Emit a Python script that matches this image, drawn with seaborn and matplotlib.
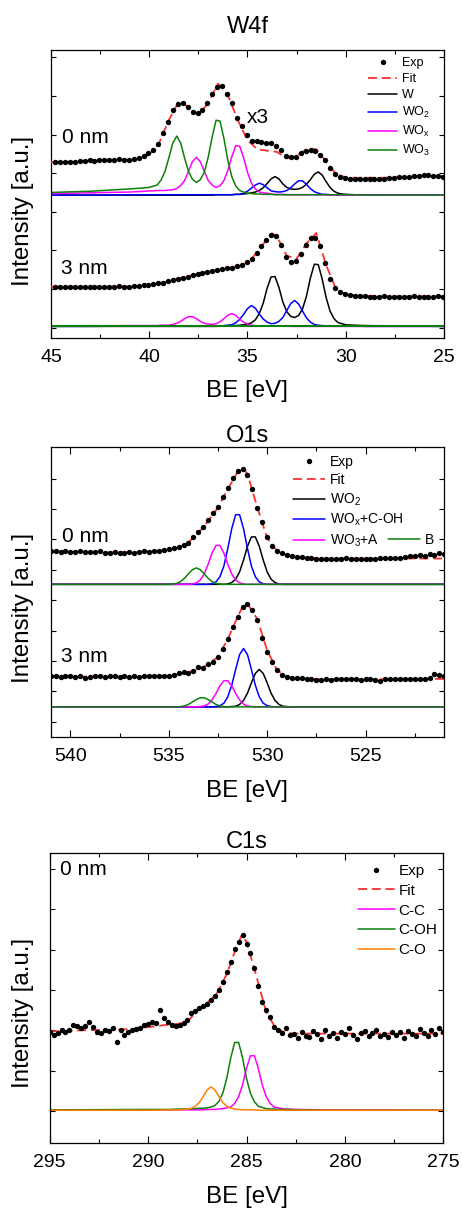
import matplotlib
matplotlib.use("Agg")
import matplotlib.pyplot as plt
import numpy as np
import seaborn as sns

# ---------------- W4f ----------------
w_be = [44.79, 44.54, 44.29, 44.04, 43.79, 43.54, 43.29, 43.04, 42.79, 42.54,
        42.29, 42.04, 41.79, 41.54, 41.29, 41.04, 40.79, 40.54, 40.29, 40.04,
        39.79, 39.54, 39.29, 39.04, 38.79, 38.54, 38.29, 38.04, 37.79, 37.54,
        37.29, 37.04, 36.79, 36.54, 36.29, 36.04, 35.79, 35.54, 35.29, 35.04,
        34.79, 34.54, 34.29, 34.04, 33.79, 33.54, 33.29, 33.04, 32.79, 32.54,
        32.29, 32.04, 31.79, 31.54, 31.29, 31.04, 30.79, 30.54, 30.29, 30.04,
        29.79, 29.54, 29.29, 29.04, 28.79, 28.54, 28.29, 28.04, 27.79, 27.54,
        27.29, 27.04, 26.79, 26.54, 26.29, 26.04, 25.79, 25.54, 25.29, 25.04]
w_exp_0nm = [4.29, 4.28, 4.29, 4.28, 4.30, 4.31, 4.32, 4.33, 4.32, 4.34,
             4.33, 4.34, 4.33, 4.36, 4.34, 4.35, 4.37, 4.39, 4.45, 4.51,
             4.60, 4.76, 5.03, 5.32, 5.64, 5.78, 5.81, 5.71, 5.59, 5.55,
             5.64, 5.81, 6.05, 6.24, 6.26, 6.05, 5.81, 5.42, 5.21, 4.99,
             4.84, 4.82, 4.80, 4.79, 4.77, 4.71, 4.60, 4.45, 4.41, 4.43,
             4.51, 4.58, 4.60, 4.56, 4.47, 4.34, 4.13, 3.98, 3.91, 3.87,
             3.85, 3.84, 3.84, 3.84, 3.85, 3.85, 3.86, 3.86, 3.88, 3.88,
             3.90, 3.89, 3.91, 3.92, 3.93, 3.95, 3.94, 3.93, 3.92, 3.91]
w_exp_3nm = [1.06, 1.06, 1.05, 1.06, 1.05, 1.06, 1.05, 1.06, 1.06, 1.05,
             1.06, 1.06, 1.06, 1.07, 1.06, 1.06, 1.08, 1.08, 1.10, 1.10,
             1.13, 1.15, 1.16, 1.20, 1.23, 1.26, 1.29, 1.32, 1.35, 1.39,
             1.41, 1.44, 1.47, 1.49, 1.51, 1.53, 1.55, 1.60, 1.62, 1.69,
             1.77, 1.94, 2.11, 2.27, 2.40, 2.37, 2.14, 1.84, 1.71, 1.73,
             1.90, 2.14, 2.31, 2.33, 2.11, 1.68, 1.26, 1.02, 0.93, 0.87,
             0.84, 0.82, 0.81, 0.81, 0.80, 0.80, 0.80, 0.81, 0.80, 0.80,
             0.80, 0.80, 0.80, 0.81, 0.80, 0.80, 0.80, 0.80, 0.81, 0.80]

w_fit_be = [45.0, 44.5, 44.0, 43.5, 43.0, 42.5, 42.0, 41.5, 41.0, 40.5,
            40.0, 39.5, 39.0, 38.5, 38.0, 37.5, 37.0, 36.5, 36.0, 35.5,
            35.0, 34.5, 34.0, 33.75, 33.5, 33.0, 32.5, 32.0, 31.5, 31.0,
            30.5, 30.0, 29.5, 29.0, 28.5, 28.0, 27.5, 27.0, 26.5, 26.0,
            25.5, 25.0]
w_fit_0nm = [4.29, 4.29, 4.29, 4.31, 4.32, 4.33, 4.33, 4.34, 4.35, 4.38,
             4.48, 4.78, 5.38, 5.85, 5.72, 5.50, 5.82, 6.32, 6.02, 5.38,
             4.85, 4.62, 4.58, 4.57, 4.55, 4.38, 4.45, 4.62, 4.62, 4.30,
             3.98, 3.89, 3.88, 3.88, 3.88, 3.88, 3.89, 3.90, 3.91, 3.92,
             3.92, 3.92]
w_fit_3nm = [1.06, 1.06, 1.06, 1.06, 1.06, 1.06, 1.06, 1.06, 1.07, 1.08,
             1.10, 1.14, 1.20, 1.27, 1.33, 1.40, 1.45, 1.50, 1.54, 1.59,
             1.68, 1.95, 2.30, 2.44, 2.36, 1.86, 1.78, 2.18, 2.45, 1.62,
             1.00, 0.86, 0.83, 0.82, 0.82, 0.81, 0.81, 0.81, 0.81, 0.81,
             0.81, 0.81]

w_comp_be = [45.0, 43.0, 41.0, 40.2, 40.0, 39.8, 39.6, 39.4, 39.2, 39.0,
             38.8, 38.6, 38.4, 38.2, 38.0, 37.8, 37.6, 37.4, 37.2, 37.0,
             36.8, 36.6, 36.4, 36.2, 36.0, 35.8, 35.6, 35.4, 35.2, 35.0,
             34.8, 34.6, 34.4, 34.2, 34.0, 33.8, 33.6, 33.4, 33.2, 33.0,
             32.8, 32.6, 32.4, 32.2, 32.0, 31.8, 31.6, 31.4, 31.2, 31.0,
             30.8, 30.6, 30.4, 30.2, 30.0, 29.6, 29.0, 27.0, 25.0]
w_w_0nm = [0.00, 0.00, 0.00, 0.00, 0.00, 0.00, 0.00, 0.00, 0.00, 0.00,
           0.00, 0.00, 0.00, 0.00, 0.00, 0.00, 0.00, 0.00, 0.00, 0.00,
           0.00, 0.01, 0.01, 0.01, 0.01, 0.01, 0.02, 0.02, 0.03, 0.04,
           0.06, 0.08, 0.12, 0.19, 0.30, 0.42, 0.48, 0.42, 0.29, 0.20,
           0.16, 0.15, 0.16, 0.20, 0.28, 0.40, 0.54, 0.60, 0.52, 0.35,
           0.20, 0.10, 0.05, 0.03, 0.02, 0.01, 0.01, 0.00, 0.00]
w_wo2_0nm = [0.00, 0.00, 0.01, 0.01, 0.01, 0.01, 0.01, 0.01, 0.01, 0.01,
             0.01, 0.01, 0.01, 0.01, 0.01, 0.01, 0.01, 0.01, 0.01, 0.01,
             0.01, 0.01, 0.01, 0.01, 0.01, 0.01, 0.02, 0.02, 0.05, 0.10,
             0.18, 0.26, 0.31, 0.27, 0.19, 0.11, 0.09, 0.08, 0.09, 0.12,
             0.19, 0.29, 0.37, 0.37, 0.28, 0.17, 0.09, 0.05, 0.02, 0.02,
             0.01, 0.01, 0.01, 0.01, 0.01, 0.01, 0.00, 0.00, 0.00]
w_wox_0nm = [0.04, 0.06, 0.08, 0.10, 0.11, 0.11, 0.12, 0.12, 0.12, 0.13,
             0.14, 0.17, 0.25, 0.38, 0.62, 0.87, 0.98, 0.86, 0.62, 0.38,
             0.26, 0.20, 0.24, 0.38, 0.64, 0.99, 1.28, 1.27, 0.97, 0.59,
             0.31, 0.16, 0.08, 0.06, 0.05, 0.03, 0.02, 0.02, 0.02, 0.01,
             0.01, 0.01, 0.01, 0.01, 0.01, 0.01, 0.01, 0.01, 0.01, 0.01,
             0.00, 0.00, 0.00, 0.00, 0.00, 0.00, 0.00, 0.00, 0.00]
w_wo3_0nm = [0.07, 0.10, 0.16, 0.19, 0.20, 0.23, 0.26, 0.39, 0.61, 0.97,
             1.35, 1.53, 1.35, 0.96, 0.61, 0.41, 0.33, 0.40, 0.59, 0.98,
             1.50, 1.94, 1.92, 1.47, 0.90, 0.48, 0.24, 0.12, 0.08, 0.05,
             0.04, 0.03, 0.03, 0.02, 0.02, 0.02, 0.01, 0.01, 0.01, 0.01,
             0.01, 0.01, 0.01, 0.01, 0.01, 0.01, 0.01, 0.01, 0.01, 0.01,
             0.01, 0.01, 0.01, 0.01, 0.01, 0.01, 0.00, 0.00, 0.00]
w_w_3nm = [0.00, 0.00, 0.00, 0.00, 0.00, 0.00, 0.00, 0.00, 0.00, 0.00,
           0.00, 0.00, 0.00, 0.00, 0.00, 0.00, 0.00, 0.00, 0.00, 0.00,
           0.00, 0.00, 0.01, 0.01, 0.02, 0.02, 0.02, 0.03, 0.04, 0.06,
           0.09, 0.17, 0.33, 0.60, 0.99, 1.28, 1.29, 1.01, 0.63, 0.38,
           0.26, 0.23, 0.28, 0.45, 0.78, 1.25, 1.61, 1.60, 1.23, 0.75,
           0.40, 0.20, 0.10, 0.07, 0.04, 0.03, 0.02, 0.01, 0.00]
w_wo2_3nm = [0.00, 0.00, 0.01, 0.01, 0.01, 0.01, 0.01, 0.01, 0.01, 0.01,
             0.01, 0.01, 0.01, 0.01, 0.01, 0.01, 0.01, 0.01, 0.01, 0.01,
             0.01, 0.01, 0.01, 0.02, 0.03, 0.04, 0.09, 0.18, 0.31, 0.46,
             0.54, 0.47, 0.32, 0.19, 0.11, 0.07, 0.08, 0.13, 0.23, 0.41,
             0.59, 0.67, 0.58, 0.40, 0.22, 0.11, 0.05, 0.03, 0.02, 0.01,
             0.01, 0.01, 0.01, 0.01, 0.01, 0.01, 0.00, 0.00, 0.00]
w_wox_3nm = [0.01, 0.01, 0.02, 0.02, 0.02, 0.02, 0.02, 0.03, 0.03, 0.03,
             0.05, 0.08, 0.13, 0.20, 0.25, 0.25, 0.20, 0.13, 0.08, 0.06,
             0.05, 0.07, 0.12, 0.20, 0.29, 0.33, 0.29, 0.19, 0.11, 0.06,
             0.03, 0.02, 0.01, 0.01, 0.01, 0.01, 0.01, 0.01, 0.01, 0.01,
             0.00, 0.00, 0.00, 0.00, 0.00, 0.00, 0.00, 0.00, 0.00, 0.00,
             0.00, 0.00, 0.00, 0.00, 0.00, 0.00, 0.00, 0.00, 0.00]
w_wo3_3nm_be = [45.0, 25.0]
w_wo3_3nm = [0.00, 0.00]
w_base_0nm = 3.43
w_base_3nm = 0.03

# ---------------- O1s ----------------
o_be = [541.0, 540.75, 540.5, 540.25, 540.0, 539.75, 539.5, 539.25, 539.0, 538.75,
        538.5, 538.25, 538.0, 537.75, 537.5, 537.25, 537.0, 536.75, 536.5, 536.25,
        536.0, 535.75, 535.5, 535.25, 535.0, 534.75, 534.5, 534.25, 534.0, 533.75,
        533.5, 533.25, 533.0, 532.75, 532.5, 532.25, 532.0, 531.75, 531.5, 531.25,
        531.0, 530.75, 530.5, 530.25, 530.0, 529.75, 529.5, 529.25, 529.0, 528.75,
        528.5, 528.25, 528.0, 527.75, 527.5, 527.25, 527.0, 526.75, 526.5, 526.25,
        526.0, 525.75, 525.5, 525.25, 525.0, 524.75, 524.5, 524.25, 524.0, 523.75,
        523.5, 523.25, 523.0, 522.75, 522.5, 522.25, 522.0, 521.75, 521.5, 521.25,
        521.0]
o_exp_0nm = [5.63, 5.60, 5.59, 5.60, 5.59, 5.58, 5.60, 5.59, 5.57, 5.59,
             5.62, 5.55, 5.54, 5.57, 5.56, 5.54, 5.57, 5.56, 5.59, 5.60,
             5.59, 5.63, 5.63, 5.65, 5.67, 5.70, 5.74, 5.81, 5.89, 6.07,
             6.25, 6.42, 6.63, 6.85, 7.07, 7.38, 7.68, 8.01, 8.25, 8.33,
             8.12, 7.64, 7.02, 6.58, 6.09, 5.78, 5.63, 5.54, 5.48, 5.46,
             5.43, 5.41, 5.40, 5.37, 5.36, 5.34, 5.35, 5.35, 5.36, 5.36,
             5.37, 5.36, 5.35, 5.35, 5.34, 5.36, 5.34, 5.40, 5.38, 5.40,
             5.39, 5.40, 5.42, 5.44, 5.45, 5.47, 5.45, 5.53, 5.49, 5.56,
             5.52]
o_exp_3nm = [1.51, 1.49, 1.48, 1.49, 1.49, 1.47, 1.49, 1.45, 1.46, 1.49,
             1.49, 1.48, 1.50, 1.49, 1.48, 1.49, 1.47, 1.49, 1.48, 1.50,
             1.50, 1.50, 1.50, 1.50, 1.50, 1.54, 1.59, 1.65, 1.61, 1.67,
             1.79, 1.76, 1.90, 1.97, 2.14, 2.38, 2.72, 3.13, 3.43, 3.78,
             3.87, 3.67, 3.35, 2.75, 2.30, 1.97, 1.70, 1.54, 1.48, 1.43,
             1.43, 1.43, 1.42, 1.39, 1.37, 1.37, 1.39, 1.37, 1.39, 1.39,
             1.39, 1.39, 1.39, 1.38, 1.39, 1.39, 1.37, 1.35, 1.42, 1.39,
             1.39, 1.40, 1.40, 1.40, 1.40, 1.40, 1.42, 1.45, 1.56, 1.55,
             1.51]

o_fit_be = [541.0, 540.5, 540.0, 539.5, 539.0, 538.5, 538.0, 537.5, 537.0, 536.5,
            536.0, 535.5, 535.0, 534.5, 534.0, 533.5, 533.0, 532.5, 532.0, 531.5,
            531.25, 531.0, 530.5, 530.0, 529.5, 529.0, 528.5, 528.0, 527.5, 527.0,
            526.5, 526.0, 525.5, 525.0, 524.5, 524.0, 523.5, 523.0, 522.5, 522.0,
            521.5, 521.0]
o_fit_0nm = [5.61, 5.60, 5.59, 5.59, 5.58, 5.58, 5.57, 5.57, 5.57, 5.58,
             5.60, 5.62, 5.66, 5.74, 5.90, 6.20, 6.60, 7.05, 7.65, 8.22,
             8.35, 8.15, 7.05, 6.05, 5.62, 5.48, 5.43, 5.40, 5.38, 5.37,
             5.37, 5.37, 5.37, 5.37, 5.37, 5.37, 5.37, 5.37, 5.37, 5.37,
             5.37, 5.37]
o_fit_3nm = [1.49, 1.49, 1.49, 1.49, 1.48, 1.48, 1.48, 1.48, 1.48, 1.48,
             1.49, 1.49, 1.51, 1.56, 1.63, 1.72, 1.88, 2.14, 2.72, 3.45,
             3.78, 3.88, 3.38, 2.35, 1.70, 1.48, 1.43, 1.41, 1.40, 1.40,
             1.40, 1.40, 1.40, 1.40, 1.40, 1.40, 1.40, 1.40, 1.41, 1.41,
             1.41, 1.41]

o_comp_be = [541.0, 536.0, 535.8, 535.6, 535.4, 535.2, 535.0, 534.8, 534.6, 534.4,
             534.2, 534.0, 533.8, 533.6, 533.4, 533.2, 533.0, 532.8, 532.6, 532.4,
             532.2, 532.0, 531.8, 531.6, 531.4, 531.2, 531.0, 530.8, 530.6, 530.4,
             530.2, 530.0, 529.8, 529.6, 529.4, 529.2, 529.0, 528.8, 528.6, 528.4,
             528.2, 528.0, 521.0]
o_wo2_0nm = [0, 0, 0, 0, 0, 0, 0, 0, 0, 0,
             0, 0, 0, 0, 0, 0, 0, 0, 0, 0,
             0.00, 0.01, 0.06, 0.17, 0.41, 0.80, 1.25, 1.56, 1.56, 1.25,
             0.80, 0.41, 0.17, 0.06, 0.01, 0.00, 0.00, 0.00, 0.00, 0.00,
             0, 0, 0]
o_woxcoh_0nm = [0, 0, 0, 0, 0, 0, 0, 0, 0, 0,
                0, 0, 0, 0, 0, 0, 0, 0.02, 0.08, 0.25,
                0.60, 1.18, 1.83, 2.29, 2.29, 1.83, 1.18, 0.60, 0.25, 0.08,
                0.02, 0, 0, 0, 0, 0, 0, 0, 0, 0,
                0, 0, 0]
o_wo3a_0nm = [0, 0, 0, 0, 0, 0, 0, 0, 0, 0,
              0, 0, 0.01, 0.05, 0.14, 0.34, 0.66, 1.03, 1.28, 1.28,
              1.03, 0.66, 0.34, 0.14, 0.05, 0.01, 0, 0, 0, 0,
              0, 0, 0, 0, 0, 0, 0, 0, 0, 0,
              0, 0, 0]
o_b_0nm = [0, 0, 0, 0, 0, 0, 0, 0.01, 0.03, 0.09,
           0.20, 0.35, 0.48, 0.54, 0.48, 0.35, 0.20, 0.09, 0.03, 0.01,
           0, 0, 0, 0, 0, 0, 0, 0, 0, 0,
           0, 0, 0, 0, 0, 0, 0, 0, 0, 0,
           0, 0, 0]
o_wo2_3nm = [0, 0, 0, 0, 0, 0, 0, 0, 0, 0,
             0, 0, 0, 0, 0, 0, 0, 0, 0, 0,
             0, 0, 0.01, 0.02, 0.08, 0.21, 0.45, 0.79, 1.10, 1.23,
             1.10, 0.79, 0.45, 0.21, 0.08, 0.02, 0.01, 0, 0, 0,
             0, 0, 0]
o_woxcoh_3nm = [0, 0, 0, 0, 0, 0, 0, 0, 0, 0,
                0, 0, 0, 0, 0, 0, 0, 0, 0.01, 0.04,
                0.12, 0.33, 0.71, 1.23, 1.72, 1.92, 1.72, 1.23, 0.71, 0.33,
                0.12, 0.04, 0.01, 0, 0, 0, 0, 0, 0, 0,
                0, 0, 0]
o_wo3a_3nm = [0, 0, 0, 0, 0, 0, 0, 0, 0, 0,
              0, 0, 0, 0, 0.01, 0.03, 0.09, 0.23, 0.44, 0.69,
              0.86, 0.86, 0.69, 0.44, 0.23, 0.09, 0.03, 0.01, 0, 0,
              0, 0, 0, 0, 0, 0, 0, 0, 0, 0,
              0, 0, 0]
o_b_3nm = [0, 0, 0, 0, 0, 0, 0, 0, 0, 0.01,
           0.03, 0.08, 0.16, 0.24, 0.30, 0.30, 0.24, 0.16, 0.08, 0.03,
           0.01, 0, 0, 0, 0, 0, 0, 0, 0, 0,
           0, 0, 0, 0, 0, 0, 0, 0, 0, 0,
           0, 0, 0]
o_base_0nm = 4.52
o_base_3nm = 0.49

# ---------------- C1s ----------------
c_be = [295.0, 294.8, 294.6, 294.4, 294.2, 294.0, 293.8, 293.6, 293.4, 293.2,
        293.0, 292.8, 292.6, 292.4, 292.2, 292.0, 291.8, 291.6, 291.4, 291.2,
        291.0, 290.8, 290.6, 290.4, 290.2, 290.0, 289.8, 289.6, 289.4, 289.2,
        289.0, 288.8, 288.6, 288.4, 288.2, 288.0, 287.8, 287.6, 287.4, 287.2,
        287.0, 286.8, 286.6, 286.4, 286.2, 286.0, 285.8, 285.6, 285.4, 285.2,
        285.0, 284.8, 284.6, 284.4, 284.2, 284.0, 283.8, 283.6, 283.4, 283.2,
        283.0, 282.8, 282.6, 282.4, 282.2, 282.0, 281.8, 281.6, 281.4, 281.2,
        281.0, 280.8, 280.6, 280.4, 280.2, 280.0, 279.8, 279.6, 279.4, 279.2,
        279.0, 278.8, 278.6, 278.4, 278.2, 278.0, 277.8, 277.6, 277.4, 277.2,
        277.0, 276.8, 276.6, 276.4, 276.2, 276.0, 275.8, 275.6, 275.4, 275.2,
        275.0]
c_exp_0nm = [1.97, 1.88, 1.93, 2.02, 1.96, 2.01, 2.14, 2.12, 2.05, 2.10,
             2.20, 2.08, 1.97, 1.94, 2.01, 1.98, 2.05, 1.72, 2.02, 1.89,
             1.95, 2.01, 2.04, 2.06, 2.13, 2.17, 2.22, 2.18, 2.50, 2.30,
             2.22, 2.14, 2.12, 2.13, 2.18, 2.25, 2.42, 2.48, 2.55, 2.60,
             2.66, 2.75, 2.85, 3.00, 3.20, 3.45, 3.70, 4.02, 4.20, 4.37,
             4.15, 3.92, 3.55, 3.10, 2.70, 2.50, 2.32, 2.08, 2.00, 1.93,
             2.06, 1.88, 1.92, 1.80, 1.95, 1.86, 1.83, 1.98, 1.90, 1.78,
             2.02, 1.87, 1.93, 1.82, 1.96, 1.90, 2.05, 1.88, 1.79, 1.94,
             1.99, 1.85, 1.93, 2.02, 1.87, 1.91, 1.84, 1.97, 1.88, 1.95,
             1.82, 1.99, 1.91, 1.86, 2.04, 1.93, 1.87, 2.00, 1.92, 2.06,
             1.96]

c_fit_be = [295.0, 294.5, 294.0, 293.5, 293.0, 292.5, 292.0, 291.5, 291.0, 290.5,
            290.0, 289.5, 289.0, 288.5, 288.0, 287.5, 287.0, 286.5, 286.0, 285.5,
            285.25, 285.0, 284.5, 284.0, 283.5, 283.0, 282.5, 282.0, 281.5, 281.0,
            280.5, 280.0, 279.5, 279.0, 278.5, 278.0, 277.5, 277.0, 276.5, 276.0,
            275.5, 275.0]
c_fit_0nm = [1.98, 1.98, 1.99, 2.00, 2.01, 2.01, 2.01, 2.02, 2.03, 2.05,
             2.08, 2.11, 2.14, 2.16, 2.22, 2.48, 2.68, 2.92, 3.40, 4.08,
             4.35, 4.20, 3.35, 2.45, 2.04, 1.94, 1.92, 1.92, 1.92, 1.92,
             1.92, 1.92, 1.92, 1.92, 1.92, 1.92, 1.92, 1.92, 1.92, 1.92,
             1.92, 1.92]

c_comp_be = [295.0, 290.0, 289.0, 288.4, 288.2, 288.0, 287.8, 287.6, 287.4, 287.2,
             287.0, 286.8, 286.6, 286.4, 286.2, 286.0, 285.8, 285.6, 285.4, 285.2,
             285.0, 284.8, 284.6, 284.4, 284.2, 284.0, 283.8, 283.6, 283.4, 283.2,
             283.0, 282.4, 281.0, 275.0]
c_cc = [0.00, 0.01, 0.01, 0.01, 0.01, 0.01, 0.01, 0.01, 0.01, 0.01,
        0.02, 0.02, 0.02, 0.03, 0.04, 0.06, 0.08, 0.17, 0.34, 0.63,
        1.04, 1.35, 1.35, 1.04, 0.63, 0.34, 0.17, 0.08, 0.06, 0.04,
        0.03, 0.02, 0.01, 0.00]
c_coh = [0.01, 0.02, 0.02, 0.03, 0.03, 0.03, 0.04, 0.04, 0.05, 0.05,
         0.06, 0.08, 0.12, 0.22, 0.43, 0.80, 1.30, 1.68, 1.68, 1.30,
         0.79, 0.42, 0.21, 0.10, 0.07, 0.04, 0.03, 0.03, 0.02, 0.02,
         0.02, 0.01, 0.00, 0.00]
c_co = [0.00, 0.00, 0.01, 0.01, 0.02, 0.03, 0.05, 0.10, 0.19, 0.34,
        0.50, 0.58, 0.50, 0.34, 0.19, 0.10, 0.05, 0.03, 0.02, 0.01,
        0.01, 0.01, 0.01, 0.00, 0.00, 0.00, 0.00, 0.00, 0.00, 0.00,
        0.00, 0.00, 0.00, 0.00]
c_base = 0.02

# ---------------- style ----------------
sns.set_style("ticks")
plt.rcParams["font.family"] = ["Liberation Sans", "DejaVu Sans"]
plt.rcParams["mathtext.fontset"] = "custom"
plt.rcParams["mathtext.rm"] = "Liberation Sans"
plt.rcParams["mathtext.it"] = "Liberation Sans:italic"
plt.rcParams["axes.linewidth"] = 0.9
for key in ["text.color", "axes.labelcolor", "xtick.color", "ytick.color",
            "axes.edgecolor"]:
    plt.rcParams[key] = "black"

RED = "#ff3030"
BLUE = "#0000ff"
MAGENTA = "#ff00ff"
GREEN = "#0c800c"
ORANGE = "#ff8000"
FIT_DASH = (0, (5, 2.6))
LW = 1.1


def dots(ax, x, y, label=None):
    sns.scatterplot(x=x, y=y, ax=ax, color="black", s=15, linewidth=0,
                    label=label, zorder=4)


def line(ax, x, y, color, label=None, base=0.0, dashed=False, lw=LW):
    yy = np.asarray(y, dtype=float) + base
    if dashed:
        sns.lineplot(x=x, y=yy, ax=ax, color=color, lw=1.3, linestyle=FIT_DASH,
                     label=label, estimator=None, sort=False, zorder=3)
    else:
        sns.lineplot(x=x, y=yy, ax=ax, color=color, lw=lw, label=label,
                     estimator=None, sort=False, zorder=2)


def style(ax, xlim, ylim, xmajor, xminor, yticks, title, pad, ylab_pos):
    ax.set_xlim(*xlim)
    ax.set_ylim(*ylim)
    ax.set_xticks(xmajor)
    ax.set_xticks(xminor, minor=True)
    ax.set_xticklabels([f"{v:g}" for v in xmajor])
    ax.set_yticks(yticks)
    ax.tick_params(which="both", direction="in", top=True, right=True,
                   width=0.8, color="black")
    ax.tick_params(axis="x", which="major", length=5, labelsize=14, pad=8)
    ax.tick_params(axis="x", which="minor", length=3)
    ax.tick_params(axis="y", which="major", length=3.6, labelleft=False)
    ax.set_title(title, fontsize=17, pad=pad)
    ax.set_xlabel("BE [eV]", fontsize=17.4)
    ax.xaxis.set_label_coords(0.5, -0.184)
    ax.xaxis.label.set_va("center")
    ax.set_ylabel("Intensity [a.u.]", fontsize=17.4)
    ax.yaxis.set_label_coords(*ylab_pos)
    ax.yaxis.label.set_va("center")
    for s in ax.spines.values():
        s.set_linewidth(0.9)
        s.set_color("black")


def make_legend(ax, order, anchor, fs, hl, htp, ls):
    h, l = ax.get_legend_handles_labels()
    lut = dict(zip(l, h))
    return ax.legend([lut[k] for k in order], order, loc="upper left",
                     bbox_to_anchor=anchor, frameon=False, fontsize=fs,
                     handlelength=hl, handletextpad=htp, labelspacing=ls,
                     borderpad=0, borderaxespad=0, scatteryoffsets=[0.5])


fig = plt.figure(figsize=(4.62, 12.10), dpi=100)

# W4f panel
ax1 = fig.add_axes([0.1104, 0.7207, 0.8506, 0.2380])
line(ax1, w_fit_be, w_fit_0nm, RED, label="Fit", dashed=True)
line(ax1, w_fit_be, w_fit_3nm, RED, dashed=True)
dots(ax1, w_be, w_exp_0nm, label="Exp")
dots(ax1, w_be, w_exp_3nm)
lab_w = ["W", "WO$_\\mathregular{2}$", "WO$_\\mathregular{x}$", "WO$_\\mathregular{3}$"]
line(ax1, w_comp_be, w_w_0nm, "black", label=lab_w[0], base=w_base_0nm)
line(ax1, w_comp_be, w_wo2_0nm, BLUE, label=lab_w[1], base=w_base_0nm)
line(ax1, w_comp_be, w_wox_0nm, MAGENTA, label=lab_w[2], base=w_base_0nm)
line(ax1, w_comp_be, w_wo3_0nm, GREEN, label=lab_w[3], base=w_base_0nm)
line(ax1, w_comp_be, w_w_3nm, "black", base=w_base_3nm)
line(ax1, w_comp_be, w_wo2_3nm, BLUE, base=w_base_3nm)
line(ax1, w_comp_be, w_wox_3nm, MAGENTA, base=w_base_3nm)
line(ax1, w_wo3_3nm_be, w_wo3_3nm, GREEN, base=w_base_3nm, lw=1.5)
style(ax1, (45, 25), (-0.27, 7.19), [45, 40, 35, 30, 25],
      [42.5, 37.5, 32.5, 27.5], [0, 1, 2, 3, 4, 5, 6, 7], "W4f", 12.5,
      (-0.071, 0.441))
ax1.text(44.44, 4.91, "0 nm", fontsize=15, ha="left", va="center")
ax1.text(44.49, 1.52, "3 nm", fontsize=15, ha="left", va="center")
ax1.text(35.04, 5.43, "x3", fontsize=15, ha="left", va="center")
make_legend(ax1, ["Exp", "Fit"] + lab_w, (0.807, 0.975), 9, 2.3, 0.4, 0.32)

# O1s panel
ax2 = fig.add_axes([0.1097, 0.3907, 0.8519, 0.2402])
line(ax2, o_fit_be, o_fit_0nm, RED, label="Fit", dashed=True)
line(ax2, o_fit_be, o_fit_3nm, RED, dashed=True)
dots(ax2, o_be, o_exp_0nm, label="Exp")
dots(ax2, o_be, o_exp_3nm)
lab_o = ["WO$_\\mathregular{2}$", "WO$_\\mathregular{x}$+C-OH",
         "WO$_\\mathregular{3}$+A", "B"]
line(ax2, o_comp_be, o_wo2_0nm, "black", label=lab_o[0], base=o_base_0nm)
line(ax2, o_comp_be, o_woxcoh_0nm, BLUE, label=lab_o[1], base=o_base_0nm)
line(ax2, o_comp_be, o_wo3a_0nm, MAGENTA, label=lab_o[2], base=o_base_0nm)
line(ax2, o_comp_be, o_b_0nm, GREEN, label=lab_o[3], base=o_base_0nm)
line(ax2, o_comp_be, o_wo2_3nm, "black", base=o_base_3nm)
line(ax2, o_comp_be, o_woxcoh_3nm, BLUE, base=o_base_3nm)
line(ax2, o_comp_be, o_wo3a_3nm, MAGENTA, base=o_base_3nm)
line(ax2, o_comp_be, o_b_3nm, GREEN, base=o_base_3nm)
style(ax2, (541, 521), (-0.51, 9.05), [540, 535, 530, 525],
      [537.5, 532.5, 527.5, 522.5], [0, 1, 2, 3, 4, 5, 6, 7, 8], "O1s", 2.5,
      (-0.0704, 0.445))
ax2.text(540.44, 6.09, "0 nm", fontsize=15, ha="left", va="center")
ax2.text(540.48, 2.16, "3 nm", fontsize=15, ha="left", va="center")
leg2 = make_legend(ax2, ["Exp", "Fit"] + lab_o[:3], (0.616, 0.971), 10, 2.3, 0.36, 0.3)
ax2.add_artist(leg2)
h2, l2 = ax2.get_legend_handles_labels()
ax2.legend([dict(zip(l2, h2))["B"]], ["B"], loc="upper left",
           bbox_to_anchor=(0.857, 0.703), frameon=False, fontsize=10,
           handlelength=2.3, handletextpad=0.36, borderpad=0, borderaxespad=0)

# C1s panel
ax3 = fig.add_axes([0.1076, 0.0551, 0.8519, 0.2397])
line(ax3, c_fit_be, c_fit_0nm, RED, label="Fit", dashed=True)
dots(ax3, c_be, c_exp_0nm, label="Exp")
line(ax3, c_comp_be, c_cc, MAGENTA, label="C-C", base=c_base)
line(ax3, c_comp_be, c_coh, GREEN, label="C-OH", base=c_base)
line(ax3, c_comp_be, c_co, ORANGE, label="C-O", base=c_base)
style(ax3, (295, 275), (-0.80, 6.39), [295, 290, 285, 280, 275],
      [292.5, 287.5, 282.5, 277.5], [0, 1, 2, 3, 4, 5, 6], "C1s", 3.6,
      (-0.0678, 0.449))
ax3.text(294.48, 5.98, "0 nm", fontsize=15, ha="left", va="center")
make_legend(ax3, ["Exp", "Fit", "C-C", "C-OH", "C-O"], (0.783, 0.963), 11, 2.4, 0.26, 0.38)

fig.savefig("out.png", dpi=100)
